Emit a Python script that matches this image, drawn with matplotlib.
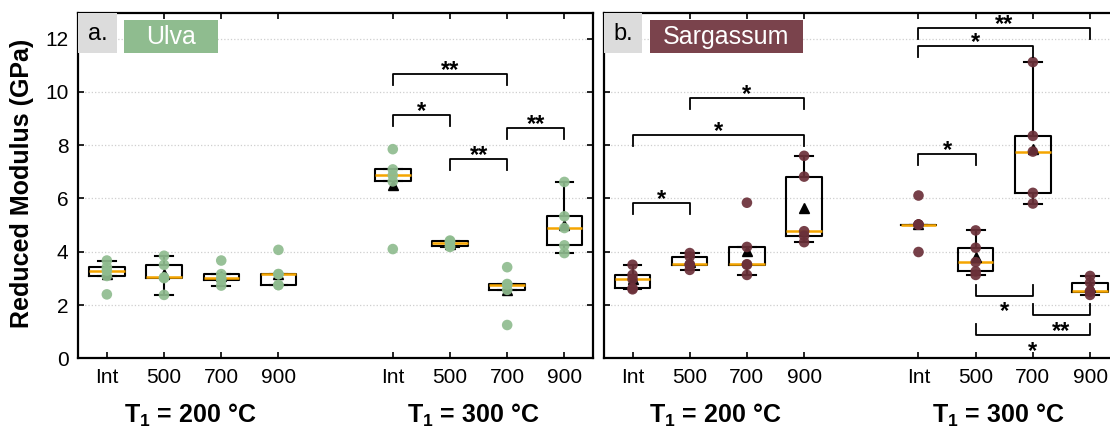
import numpy as np
import matplotlib.pyplot as plt
import matplotlib.transforms as mtransforms
from matplotlib.patches import Rectangle

plt.rcParams['font.family'] = ['Liberation Sans', 'DejaVu Sans']
plt.rcParams['mathtext.fontset'] = 'custom'
plt.rcParams['mathtext.rm'] = 'Liberation Sans'
plt.rcParams['mathtext.bf'] = 'Liberation Sans:bold'

# categories
temps = ['Int', '500', '700', '900']
pos_200 = [0, 1, 2, 3]
pos_300 = [5, 6, 7, 8]
group_labels = ['200', '300']

# reduced modulus (GPa), five indents per condition
ulva_200 = [
    [2.40, 3.09, 3.29, 3.42, 3.67],
    [2.38, 3.01, 3.04, 3.51, 3.85],
    [2.73, 2.94, 3.01, 3.16, 3.67],
    [2.75, 2.75, 3.16, 3.16, 4.07],
]
ulva_300 = [
    [4.10, 6.64, 6.87, 7.09, 7.85],
    [4.18, 4.21, 4.33, 4.39, 4.42],
    [1.25, 2.57, 2.77, 2.79, 3.42],
    [3.95, 4.24, 4.89, 5.33, 6.62],
]
sarg_200 = [
    [2.59, 2.63, 2.97, 3.13, 3.51],
    [3.32, 3.51, 3.53, 3.82, 3.95],
    [3.13, 3.51, 3.53, 4.18, 5.84],
    [4.36, 4.60, 4.77, 6.82, 7.60],
]
sarg_300 = [
    [3.99, 5.02, 5.02, 5.02, 6.11],
    [3.13, 3.26, 3.61, 4.15, 4.80],
    [5.81, 6.21, 7.76, 8.35, 11.12],
    [2.38, 2.50, 2.52, 2.84, 3.09],
]

# significance brackets: (x1, x2, y, label, opens downward?)
ulva_brackets = [
    (5, 7, 10.68, '**', True),
    (5, 6, 9.13, '*', True),
    (6, 7, 7.47, '**', True),
    (7, 8, 8.66, '**', True),
]
sarg_brackets = [
    (0, 1, 5.84, '*', True),
    (0, 3, 8.39, '*', True),
    (1, 3, 9.76, '*', True),
    (5, 8, 12.40, '**', True),
    (5, 7, 11.72, '*', True),
    (5, 6, 7.66, '*', True),
    (6, 7, 2.35, '*', False),
    (7, 8, 1.62, '**', False),
    (6, 8, 0.87, '*', False),
]

GREEN = '#8fbc8f'
MAROON = '#6b3039'
MAROON_BOX = '#7a434c'
ORANGE = '#f5a500'


def draw_brackets(ax, brackets):
    leg = 0.41
    for x1, x2, y, label, down in brackets:
        if down:
            ax.plot([x1, x1, x2, x2], [y - leg, y, y, y - leg], color='black', lw=1.3, zorder=5)
            ax.text((x1 + x2) / 2, y - 0.12, label, ha='center', va='baseline',
                    fontsize=17, fontweight='bold', zorder=6)
        else:
            ax.plot([x1, x1, x2, x2], [y + leg, y, y, y + leg], color='black', lw=1.3, zorder=5)
            ax.text((x1 + x2) / 2, y - 0.85, label, ha='center', va='baseline',
                    fontsize=17, fontweight='bold', zorder=6)


def draw_panel(ax, data_200, data_300, color, brackets, tag, name, name_color, name_w):
    data = data_200 + data_300
    pos = pos_200 + pos_300
    ax.boxplot(data, positions=pos, widths=0.62, showfliers=False, showmeans=True,
               patch_artist=False,
               boxprops=dict(color='black', lw=1.5),
               whiskerprops=dict(color='black', lw=1.5),
               capprops=dict(color='black', lw=1.5),
               medianprops=dict(color=ORANGE, lw=1.8),
               meanprops=dict(marker='^', markerfacecolor='black', markeredgecolor='black',
                              markersize=7),
               zorder=3)
    # individual indents
    for p, vals in zip(pos, data):
        ax.scatter([p] * len(vals), vals, s=58, color=color, edgecolors='none',
                   alpha=0.92, zorder=4)

    draw_brackets(ax, brackets)

    ax.set_xlim(-0.5, 8.5)
    ax.set_ylim(0, 12.95)
    ax.set_xticks(pos)
    ax.set_xticklabels(temps * 2)
    ax.set_yticks(np.arange(0, 13, 2))
    ax.yaxis.grid(True, color='#cfcfcf', linestyle=':', lw=0.9, zorder=0)
    ax.set_axisbelow(True)
    ax.tick_params(direction='in', top=True, right=True, length=4, width=1.2,
                   labelsize=15, pad=7)
    for s in ax.spines.values():
        s.set_linewidth(1.6)

    # group labels below the temperature ticks
    trans = mtransforms.blended_transform_factory(ax.transData, ax.transAxes)
    for xc, g in zip([1.45, 6.4], group_labels):
        ax.text(xc, -0.186, r'$\mathbf{T_1}$ = ' + g + ' °C', transform=trans,
                ha='center', va='baseline', fontsize=18, fontweight='bold')

    # panel tag and species name boxes
    ax.add_patch(Rectangle((0, 0.886), 0.0746, 0.114, transform=ax.transAxes,
                           facecolor='#dcdcdc', edgecolor='none', zorder=7, clip_on=False))
    ax.text(0.0373, 0.94, tag, transform=ax.transAxes, ha='center', va='center',
            fontsize=17, zorder=8)
    ax.add_patch(Rectangle((0.089, 0.886), name_w, 0.095, transform=ax.transAxes,
                           facecolor=name_color, edgecolor='none', zorder=7, clip_on=False))
    ax.text(0.089 + name_w / 2, 0.93, name, transform=ax.transAxes, ha='center',
            va='center', fontsize=18, color='white', zorder=8)


fig = plt.figure(figsize=(11.1, 4.29), dpi=100)
ax_a = fig.add_axes([0.0705, 0.1648, 0.4637, 0.8042])
ax_b = fig.add_axes([0.5441, 0.1648, 0.4637, 0.8042])

draw_panel(ax_a, ulva_200, ulva_300, GREEN, ulva_brackets, 'a.', 'Ulva', GREEN, 0.183)
draw_panel(ax_b, sarg_200, sarg_300, MAROON, sarg_brackets, 'b.', 'Sargassum', MAROON_BOX, 0.298)
ax_b.tick_params(labelleft=False)

fig.text(0.02, 0.573, 'Reduced Modulus (GPa)', rotation=90, ha='center', va='center',
         fontsize=18, fontweight='bold')

plt.savefig('out.png', dpi=100)
